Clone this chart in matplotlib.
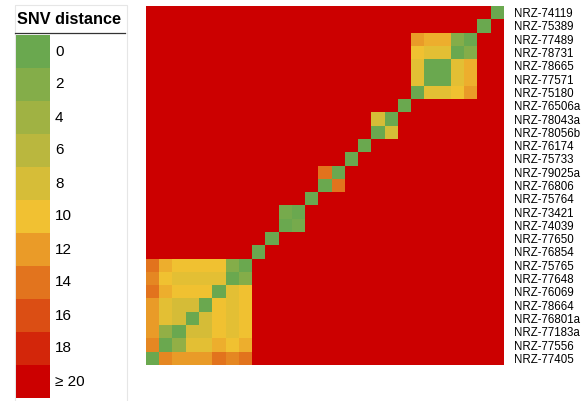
import numpy as np
import matplotlib
matplotlib.use("Agg")
import matplotlib.pyplot as plt
from matplotlib.colors import LinearSegmentedColormap
from matplotlib.patches import Rectangle

plt.rcParams['font.family'] = ['Liberation Sans', 'DejaVu Sans']

# isolates, top to bottom
isolates = ['NRZ-74119', 'NRZ-75389', 'NRZ-77489', 'NRZ-78731', 'NRZ-78665',
            'NRZ-77571', 'NRZ-75180', 'NRZ-76506a', 'NRZ-78043a', 'NRZ-78056b',
            'NRZ-76174', 'NRZ-75733', 'NRZ-79025a', 'NRZ-76806', 'NRZ-75764',
            'NRZ-73421', 'NRZ-74039', 'NRZ-77650', 'NRZ-76854', 'NRZ-75765',
            'NRZ-77648', 'NRZ-76069', 'NRZ-78664', 'NRZ-76801a', 'NRZ-77183a',
            'NRZ-77556', 'NRZ-77405']

# pairwise SNV distances (capped at 20) within the related groups
cluster_a = ['NRZ-77489', 'NRZ-78731', 'NRZ-78665', 'NRZ-77571', 'NRZ-75180']
dist_a = [[0, 2, 11, 11, 12],
          [2, 0, 9, 9, 10],
          [11, 9, 0, 0, 9],
          [11, 9, 0, 0, 9],
          [12, 10, 9, 9, 0]]

cluster_b = ['NRZ-75765', 'NRZ-77648', 'NRZ-76069', 'NRZ-78664',
             'NRZ-76801a', 'NRZ-77183a', 'NRZ-77556', 'NRZ-77405']
dist_b = [[0, 2, 10, 10, 10, 10, 11, 14],
          [2, 0, 9, 9, 9, 9, 10, 13],
          [10, 9, 0, 10, 10, 10, 11, 14],
          [10, 9, 10, 0, 8, 8, 9, 12],
          [10, 9, 10, 8, 0, 8, 9, 12],
          [10, 9, 10, 8, 8, 0, 3, 12],
          [11, 10, 11, 9, 9, 3, 0, 13],
          [14, 13, 14, 12, 12, 12, 13, 0]]

pairs = [('NRZ-78043a', 'NRZ-78056b', 8),
         ('NRZ-79025a', 'NRZ-76806', 14),
         ('NRZ-73421', 'NRZ-74039', 1)]

legend_values = [0, 2, 4, 6, 8, 10, 12, 14, 16, 18, 20]
legend_labels = ['0', '2', '4', '6', '8', '10', '12', '14', '16', '18', '≥ 20']

n = len(isolates)
idx = {name: k for k, name in enumerate(isolates)}
dist = np.full((n, n), 20.0)
np.fill_diagonal(dist, 0)
for names, block in [(cluster_a, dist_a), (cluster_b, dist_b)]:
    for i, a in enumerate(names):
        for j, b in enumerate(names):
            dist[idx[a], idx[b]] = block[i][j]
for a, b, d in pairs:
    dist[idx[a], idx[b]] = d
    dist[idx[b], idx[a]] = d

cmap = LinearSegmentedColormap.from_list(
    'snv', [(0.0, '#6aa84f'), (0.5, '#f1c232'), (1.0, '#cc0000')])

W, H = 587, 401
fig = plt.figure(figsize=(W / 100, H / 100), dpi=100)

# heatmap, columns in reverse order so the diagonal runs bottom-left to top-right
x0, x1, y0, y1 = 146, 504, 6, 365
ax = fig.add_axes([x0 / W, 1 - y1 / H, (x1 - x0) / W, (y1 - y0) / H])
ax.imshow(dist[:, ::-1], cmap=cmap, vmin=0, vmax=20, aspect='auto',
          interpolation='nearest')
ax.set_xticks([])
ax.set_yticks(range(n))
ax.set_yticklabels(isolates, fontsize=8.3)
ax.yaxis.tick_right()
ax.tick_params(axis='y', length=0, pad=7)
for s in ax.spines.values():
    s.set_visible(False)

# legend panel drawn in pixel coordinates
lax = fig.add_axes([0, 0, 1, 1])
lax.set_xlim(0, W)
lax.set_ylim(H, 0)
lax.axis('off')
lax.add_patch(Rectangle((15, 5), 112, 400, fill=False, edgecolor='#e6e6e6', lw=0.8))
lax.text(69, 19, 'SNV distance', ha='center', va='center', fontsize=11.7,
         fontweight='bold')
lax.plot([15, 125], [33, 33], color='#333333', lw=0.9)
sw_top, sw_h = 35, 33
for k, (v, lab) in enumerate(zip(legend_values, legend_labels)):
    y = sw_top + k * sw_h
    lax.add_patch(Rectangle((16, y), 34, sw_h, facecolor=cmap(v / 20), edgecolor='none'))
    lax.text(55, y + sw_h / 2, lab, ha='left', va='center', fontsize=11)

fig.savefig('out.png', dpi=100)
